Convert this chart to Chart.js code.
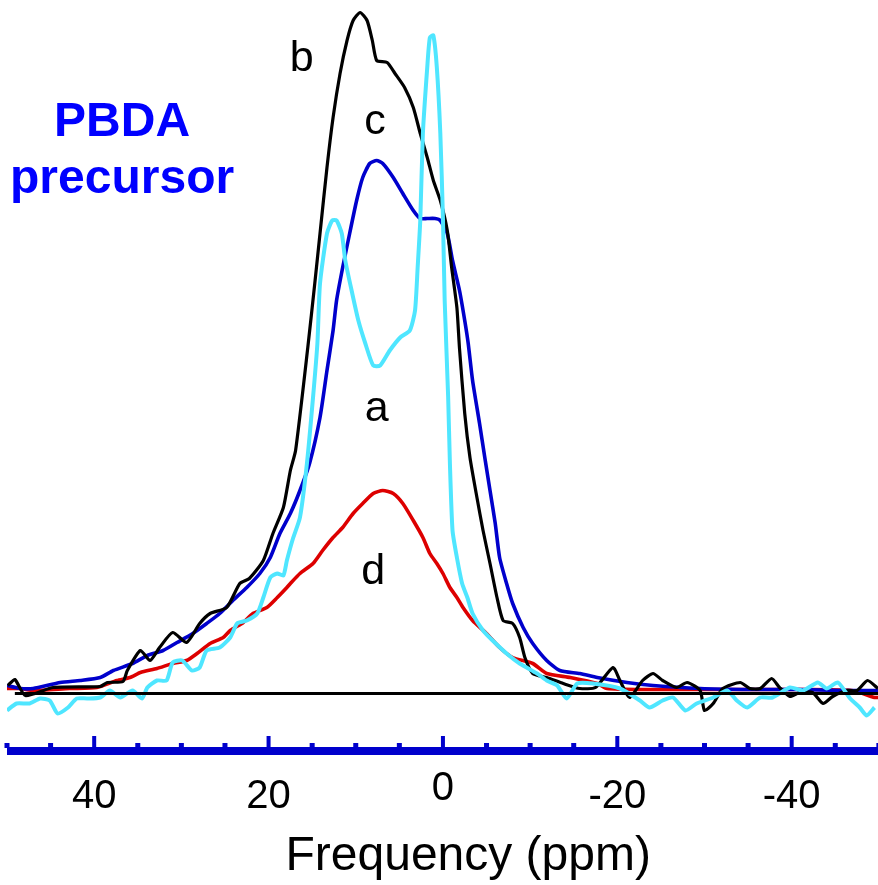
<!DOCTYPE html>
<html>
<head>
<meta charset="utf-8">
<title>PBDA precursor</title>
<script src="https://cdn.jsdelivr.net/npm/chart.js@4.4.1/dist/chart.umd.min.js"></script>
<style>
  html, body { margin: 0; padding: 0; background: #fff; }
  #box { width: 878px; height: 885px; }
</style>
</head>
<body>
<div id="box"><canvas id="nmrChart"></canvas></div>
<script>
// NMR spectra, x = ppm, y = intensity (arbitrary units, 0 = baseline)

const ppmA = [50.0, 48.9, 47.4, 46.2, 45.1, 44.2, 43.0, 42.0, 40.8, 39.3,
  38.2, 37.0, 35.6, 34.5, 33.9, 32.8, 31.7, 31.0, 29.9, 28.8,
  27.9, 27.1, 25.6, 24.4, 23.6, 22.5, 21.3, 20.6, 19.8, 19.0,
  18.3, 17.9, 17.2, 16.4, 15.6, 14.9, 14.4, 14.1, 13.3, 12.7,
  12.2, 11.6, 11.2, 10.4, 9.7, 8.9, 8.0, 7.2, 6.1, 4.9,
  3.8, 3.2, 2.9, 2.6, 2.3, 1.8, 1.5, 1.1, 0.7, 0.3,
  0.0, -0.2, -0.6, -0.8, -1.1, -1.6, -2.2, -2.8, -3.4, -4.6,
  -5.7, -7.3, -8.8, -10.8, -11.9, -13.1, -14.2, -15.4, -17.2, -20.3,
  -22.6, -23.7, -25.2, -26.4, -27.8, -29.1, -31.0, -32.6, -33.7, -34.9,
  -36.4, -37.8, -39.8, -41.3, -43.0, -44.0, -45.3, -46.7, -47.8, -48.6, -49.5];
const curveA = [-17, -10, -10, -5, -7, -20, -14, -5, -5, -4,
  3, -4, 3, -5, 6, 13, 13, 31, 33, 23,
  26, 43, 46, 56, 70, 73, 80, 96, 116, 120,
  118, 133, 155, 176, 230, 296, 350, 410, 460, 473,
  473, 460, 433, 400, 373, 350, 328, 328, 343, 356,
  363, 383, 426, 473, 560, 626, 656, 658, 626, 560,
  476, 393, 296, 230, 163, 136, 110, 96, 80, 63,
  53, 40, 30, 20, 13, 8, -5, 10, 10, 5,
  -7, -14, -7, -4, -17, -10, -4, 3, -7, -14,
  -4, -4, 6, 3, 11, 5, 11, -5, -14, -22, -14];

const ppmB = [49.9, 49.1, 47.9, 44.7, 39.3, 38.5, 36.7, 36.2, 34.7, 33.6,
  32.5, 31.0, 29.4, 27.9, 26.7, 24.8, 23.3, 22.2, 20.6, 19.5,
  18.3, 17.5, 16.9, 15.5, 14.7, 14.1, 13.3, 12.6, 11.8, 11.0,
  10.3, 9.5, 8.7, 8.1, 7.6, 6.4, 5.5, 4.4, 3.4, 2.6,
  1.8, 1.1, 0.3, -0.5, -1.0, -1.6, -1.9, -2.5, -3.1, -3.9,
  -4.6, -5.4, -6.2, -6.9, -8.0, -8.8, -9.4, -10.3, -11.9, -13.8,
  -15.7, -17.5, -19.5, -20.3, -21.4, -22.9, -24.1, -25.2, -26.8, -28.0,
  -29.5, -30.0, -31.0, -32.1, -34.1, -35.2, -36.4, -37.7, -38.6, -39.8,
  -40.9, -42.4, -43.6, -44.7, -46.3, -47.5, -48.7, -49.9];
const curveB = [8, 14, -2, 6, 7, 11, 12, 23, 43, 33,
  46, 61, 51, 70, 80, 86, 110, 115, 133, 160,
  186, 223, 243, 346, 410, 460, 526, 576, 620, 653,
  673, 681, 673, 653, 633, 631, 620, 606, 586, 560,
  536, 513, 493, 463, 426, 386, 345, 280, 236, 196,
  163, 130, 96, 73, 70, 56, 36, 20, 16, 10,
  5, 6, 26, 13, -4, 13, 20, 13, 6, 11,
  3, -17, -10, 5, 11, 5, 5, 15, 6, -3,
  1, 1, -10, -3, 3, 3, 13, 5];

const ppmC = [50.0, 48.5, 47.0, 43.9, 41.6, 39.3, 37.8, 35.6, 33.9, 32.1,
  30.5, 28.7, 27.1, 25.6, 24.1, 22.5, 21.0, 19.8, 18.7, 17.5,
  16.4, 15.3, 14.1, 13.3, 12.6, 12.2, 11.5, 10.7, 9.9, 9.2,
  8.4, 7.6, 6.9, 5.7, 4.6, 3.4, 2.6, 1.8, 0.9, 0.3,
  -0.5, -1.1, -1.9, -2.5, -2.9, -3.4, -4.2, -4.8, -5.4, -6.0,
  -6.5, -7.3, -8.0, -9.2, -10.3, -11.9, -13.4, -15.7, -17.7, -21.1,
  -24.1, -29.5, -35.2, -40.9, -45.5, -49.3, -49.9];
const curveC = [8, 5, 5, 11, 13, 16, 23, 30, 38, 43,
  51, 60, 70, 80, 93, 106, 120, 136, 160, 180,
  203, 230, 276, 323, 363, 393, 426, 460, 493, 516,
  530, 533, 530, 516, 500, 483, 475, 475, 475, 473,
  460, 433, 403, 373, 350, 313, 270, 236, 203, 170,
  136, 110, 90, 66, 50, 33, 23, 20, 16, 11,
  8, 5, 4, 4, 3, 3, 3];

const ppmD = [50.0, 48.5, 47.0, 42.8, 39.7, 37.4, 35.9, 34.7, 32.8, 31.0,
  29.4, 28.2, 26.7, 25.2, 24.4, 22.9, 21.8, 20.2, 19.0, 17.9,
  17.5, 16.4, 14.9, 13.8, 12.6, 11.5, 10.3, 9.2, 8.0, 6.9,
  5.7, 4.6, 3.4, 2.3, 1.5, 0.7, 0.0, -0.8, -1.6, -2.3,
  -3.4, -5.0, -6.5, -8.0, -10.3, -11.9, -14.6, -17.7, -18.8, -23.7,
  -29.5, -35.2, -40.9, -46.9, -49.5, -49.9];
const curveD = [5, 5, 3, 5, 6, 13, 16, 21, 25, 30,
  33, 40, 50, 56, 63, 71, 80, 86, 96, 106,
  110, 120, 130, 143, 156, 166, 180, 190, 200, 203,
  200, 190, 173, 156, 140, 130, 120, 106, 96, 86,
  73, 60, 46, 36, 30, 20, 16, 10, 5, 4,
  4, 4, 4, 3, -4, -4];

const ppmBase = [49.1, -49.9];
const curveBase = [0, 0];

const majorTicks = [40, 20, 0, -20, -40];
const axisTitle = "Frequency (ppm)";

// curve letters and caption, anchored in data coordinates
const curveLetters = ["b", "c", "a", "d"];
const letterPpm = [16.2, 7.8, 7.6, 8.0];
const letterInt = [623, 560, 273, 110];
const captionLines = ["PBDA", "precursor"];
const captionPpm = 36.8;
const captionInt = [558, 501];

const FONT = '"Liberation Sans", Arial, sans-serif';
const AXIS_BLUE = "#0000cc";

function toPoints(xs, ys) {
    return xs.map((x, i) => ({ x: x, y: ys[i] }));
}

// thick blue axis with ticks pointing up, plus the axis title
const axisPlugin = {
    id: "ppmAxis",
    afterDatasetsDraw(chart) {
        const { ctx, chartArea, scales } = chart;
        const xs = scales.x;
        const b = chartArea.bottom;
        ctx.save();
        ctx.fillStyle = AXIS_BLUE;
        ctx.fillRect(chartArea.left, b - 8, chartArea.right - chartArea.left, 8);
        for (let v = 50; v >= -50; v -= 5) {
            const px = xs.getPixelForValue(v);
            if (px < chartArea.left - 1 || px > chartArea.right + 1) continue;
            if (v % 20 === 0) ctx.fillRect(px - 2, b - 19, 4, 12);
            else ctx.fillRect(px - 2.5, b - 12, 5, 5);
        }
        ctx.fillStyle = "#000";
        ctx.font = "48px " + FONT;
        ctx.textAlign = "center";
        ctx.textBaseline = "middle";
        ctx.fillText(axisTitle, xs.getPixelForValue(-2.9), xs.bottom - 28);
        ctx.restore();
    }
};

const labelPlugin = {
    id: "curveLetters",
    afterDatasetsDraw(chart) {
        const { ctx, scales } = chart;
        ctx.save();
        ctx.textAlign = "center";
        ctx.textBaseline = "alphabetic";
        ctx.fillStyle = "#000";
        ctx.font = "43px " + FONT;
        curveLetters.forEach((t, i) => {
            ctx.fillText(t, scales.x.getPixelForValue(letterPpm[i]), scales.y.getPixelForValue(letterInt[i]));
        });
        ctx.fillStyle = "#0000ff";
        ctx.font = "bold 48px " + FONT;
        captionLines.forEach((t, i) => {
            ctx.fillText(t, scales.x.getPixelForValue(captionPpm), scales.y.getPixelForValue(captionInt[i]));
        });
        ctx.restore();
    }
};

function line(pts, color, width) {
    return {
        data: pts,
        borderColor: color,
        borderWidth: width,
        pointRadius: 0,
        tension: 0.2,
        fill: false
    };
}

new Chart(document.getElementById("nmrChart"), {
    type: "line",
    data: {
        datasets: [
            line(toPoints(ppmBase, curveBase), "#000000", 3),
            line(toPoints(ppmA, curveA), "#4fe6ff", 4),
            line(toPoints(ppmB, curveB), "#000000", 3.2),
            line(toPoints(ppmC, curveC), "#0000cc", 3.6),
            line(toPoints(ppmD, curveD), "#dd0000", 3.6)
        ]
    },
    options: {
        responsive: true,
        maintainAspectRatio: false,
        animation: false,
        layout: { padding: { left: 7, right: 0, top: 0, bottom: 0 } },
        plugins: {
            legend: { display: false },
            tooltip: { enabled: false }
        },
        scales: {
            x: {
                type: "linear",
                reverse: true,
                min: -49.9,
                max: 50,
                grid: { display: false, drawTicks: false },
                border: { display: false },
                ticks: {
                    stepSize: 5,
                    includeBounds: false,
                    autoSkip: false,
                    maxRotation: 0,
                    padding: 18,
                    color: "#000",
                    font: ctx => (ctx.tick && Math.round(ctx.tick.value) === 0)
                        ? { family: FONT, size: 40, lineHeight: 0.8 }
                        : { family: FONT, size: 40, lineHeight: 1.2 },
                    callback: v => majorTicks.includes(Math.round(v)) ? String(Math.round(v)) : ""
                },
                afterFit: s => {
                    s.height = 130;
                    s.paddingLeft = 0;
                    s.paddingRight = 0;
                }
            },
            y: {
                display: false,
                min: -61.5,
                max: 693.5
            }
        }
    },
    plugins: [axisPlugin, labelPlugin]
});
</script>
</body>
</html>
